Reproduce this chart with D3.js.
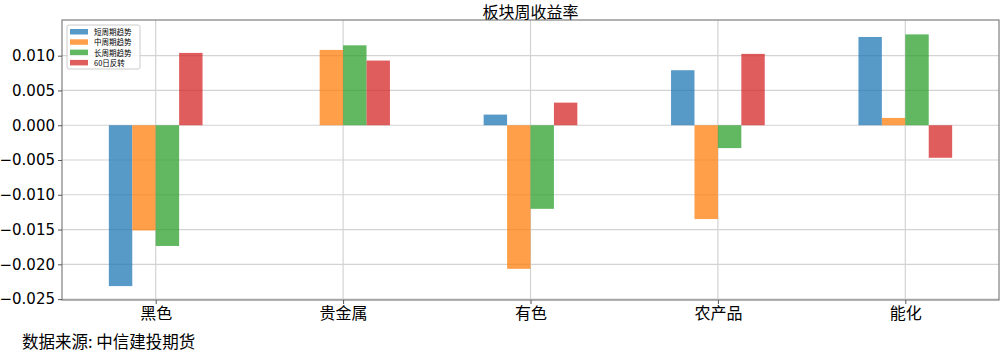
<!DOCTYPE html>
<html>
<head>
<meta charset="utf-8">
<script src="https://cdn.jsdelivr.net/npm/d3@7"></script>
<style>
  body { margin: 0; background: #fff; }
  text { font-family: "Noto Sans CJK SC", "DejaVu Sans", sans-serif; }
</style>
</head>
<body>
<svg id="chart" width="1003" height="354"></svg>
<script>
var categories = ["黑色", "贵金属", "有色", "农产品", "能化"];
var seriesNames = ["短周期趋势", "中周期趋势", "长周期趋势", "60日反转"];
var shortTrend = [-0.02313, 0, 0.00153, 0.00791, 0.01269];
var midTrend   = [-0.01512, 0.01083, -0.02065, -0.01349, 0.00105];
var longTrend  = [-0.01736, 0.01149, -0.01202, -0.00329, 0.01306];
var reversal60 = [0.0104, 0.0093, 0.00325, 0.01026, -0.00468];
var yTicks = [-0.025, -0.020, -0.015, -0.010, -0.005, 0.000, 0.005, 0.010];
var colors = ["#1f77b4", "#ff7f0e", "#2ca02c", "#d62728"];

var series = [shortTrend, midTrend, longTrend, reversal60];

var pLeft = 62, pRight = 999, pTop = 20, pBottom = 300;
var svg = d3.select("#chart");

var x = d3.scaleLinear().domain([-0.5, categories.length - 0.5]).range([pLeft, pRight]);
var y = d3.scaleLinear().domain([-0.02513, 0.01513]).range([pBottom, pTop]);

// grid
var grid = svg.append("g");
grid.selectAll(".gy").data(yTicks).enter().append("line")
    .attr("x1", pLeft).attr("x2", pRight)
    .attr("y1", d => y(d)).attr("y2", d => y(d))
    .attr("stroke", "#d3d3d3").attr("stroke-width", 1.2);
grid.selectAll(".gx").data(categories).enter().append("line")
    .attr("x1", (d, i) => x(i)).attr("x2", (d, i) => x(i))
    .attr("y1", pTop).attr("y2", pBottom)
    .attr("stroke", "#d3d3d3").attr("stroke-width", 1.2);

// bars
var bw = 0.125;
series.forEach(function(vals, s) {
    svg.append("g").selectAll("rect").data(vals).enter().append("rect")
        .attr("x", (d, i) => x(i - 0.25 + s * bw))
        .attr("width", x(bw) - x(0))
        .attr("y", d => y(Math.max(0, d)))
        .attr("height", d => Math.abs(y(d) - y(0)))
        .attr("fill", colors[s]).attr("fill-opacity", 0.75);
});

// frame
svg.append("rect").attr("x", pLeft).attr("y", pTop)
    .attr("width", pRight - pLeft).attr("height", pBottom - pTop)
    .attr("fill", "none").attr("stroke", "#7f7f7f").attr("stroke-width", 1.2);

// y axis
var yAxis = d3.axisLeft(y).tickValues(yTicks).tickSize(4).tickPadding(3)
    .tickFormat(d => d3.format(".3f")(d).replace("-", "\u2212"));
var gy = svg.append("g").attr("transform", "translate(" + pLeft + ",0)").call(yAxis);
gy.select(".domain").remove();
gy.selectAll("line").attr("stroke", "#555");
gy.selectAll("text").attr("font-size", 15).attr("fill", "#000")
    .style("font-family", "'DejaVu Sans', sans-serif");

// x axis
var xAxis = d3.axisBottom(x).tickValues(d3.range(categories.length))
    .tickSize(4).tickPadding(4).tickFormat(i => categories[i]);
var gx = svg.append("g").attr("transform", "translate(0," + pBottom + ")").call(xAxis);
gx.select(".domain").remove();
gx.selectAll("line").attr("stroke", "#555");
gx.selectAll("text").attr("font-size", 16).attr("fill", "#000");

// title
svg.append("text").attr("x", (pLeft + pRight) / 2).attr("y", 17.5)
    .attr("text-anchor", "middle").attr("font-size", 16).text("板块周收益率");

// legend
var lg = svg.append("g").attr("transform", "translate(67,25)");
lg.append("rect").attr("width", 73).attr("height", 44).attr("rx", 2)
    .attr("fill", "#fff").attr("fill-opacity", 0.8).attr("stroke", "#ccc");
seriesNames.forEach(function(name, s) {
    lg.append("rect").attr("x", 3).attr("y", 4 + s * 10.3).attr("width", 18).attr("height", 5.5)
        .attr("fill", colors[s]).attr("fill-opacity", 0.75);
    lg.append("text").attr("x", 27).attr("y", 10 + s * 10.3).attr("font-size", 7.5).text(name);
});

// source
svg.append("text").attr("x", 22).attr("y", 348).attr("font-size", 16.5).text("数据来源: 中信建投期货");
</script>
</body>
</html>
